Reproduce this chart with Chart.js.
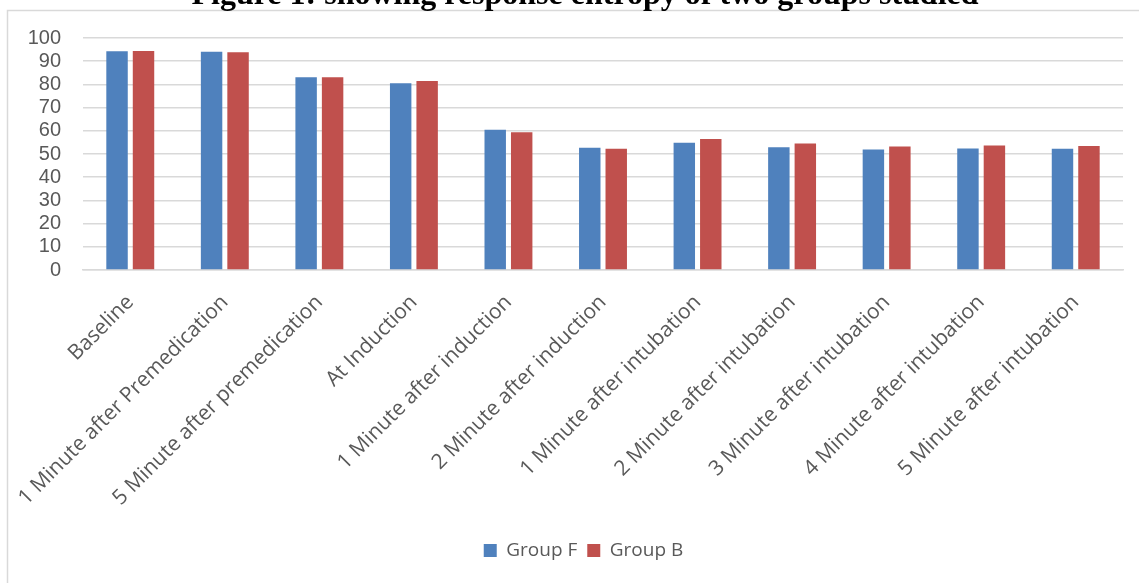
<!DOCTYPE html>
<html><head><meta charset="utf-8">
<script src="https://cdn.jsdelivr.net/npm/chart.js@4/dist/chart.umd.min.js"></script>
<style>html,body{margin:0;padding:0;background:#fff;overflow:hidden}
#wrap{position:relative;width:1139px;height:583px}
canvas{display:block}
</style></head><body><div id="wrap"><canvas id="c" width="1139" height="583"></canvas></div>
<script>
const categories = [
  "Baseline",
  "1 Minute after Premedication",
  "5 Minute after premedication",
  "At Induction",
  "1 Minute after induction",
  "2 Minute after induction",
  "1 Minute after intubation",
  "2 Minute after intubation",
  "3 Minute after intubation",
  "4 Minute after intubation",
  "5 Minute after intubation"
];
const groupF = [94.3, 94.1, 83.1, 80.5, 60.4, 52.7, 54.9, 52.9, 51.9, 52.4, 52.3];
const groupB = [94.4, 93.9, 83.1, 81.5, 59.4, 52.3, 56.5, 54.5, 53.2, 53.7, 53.4];
const yTicks = [0, 10, 20, 30, 40, 50, 60, 70, 80, 90, 100];
const seriesNames = ["Group F", "Group B"];
const titleText = "Figure 1: showing response entropy of two groups studied";

const framePlugin = {
  id: 'frameTitle',
  afterLayout(chart) {
    // centre the legend like the reference
    chart.legend.left += 22;
    chart.legend.right += 22;
  },
  beforeDraw(chart) {
    const ctx = chart.ctx;
    ctx.save();
    ctx.fillStyle = '#ffffff';
    ctx.fillRect(0, 0, chart.width, chart.height);
    ctx.strokeStyle = '#d9d9d9';
    ctx.lineWidth = 1.5;
    ctx.beginPath();
    ctx.moveTo(7.5, chart.height);
    ctx.lineTo(7.5, 10.5);
    ctx.lineTo(chart.width, 10.5);
    ctx.stroke();
    ctx.fillStyle = '#000000';
    ctx.font = 'bold 32px "Liberation Serif", "Times New Roman", serif';
    ctx.textAlign = 'center';
    ctx.textBaseline = 'alphabetic';
    ctx.fillText(titleText, 585, 4);
    ctx.restore();
  }
};

new Chart(document.getElementById('c'), {
  type: 'bar',
  data: {
    labels: categories,
    datasets: [
      { label: seriesNames[0], data: groupF, backgroundColor: '#4f81bd', borderWidth: 0,
        categoryPercentage: 0.56, barPercentage: 0.81 },
      { label: seriesNames[1], data: groupB, backgroundColor: '#c0504d', borderWidth: 0,
        categoryPercentage: 0.56, barPercentage: 0.81 }
    ]
  },
  options: {
    responsive: false,
    animation: false,
    devicePixelRatio: 1,
    layout: { padding: { left: 0, right: 16, top: 38, bottom: 13 } },
    plugins: {
      title: { display: false },
      tooltip: { enabled: false },
      legend: {
        position: 'bottom',
        labels: {
          boxWidth: 13, boxHeight: 13, padding: 10,
          color: '#595959',
          font: { family: '"Open Sans", sans-serif', size: 19 }
        }
      }
    },
    scales: {
      x: {
        grid: { display: false, drawTicks: false },
        border: { display: true, color: '#d9d9d9', width: 1.5 },
        ticks: {
          autoSkip: false, maxRotation: 45, minRotation: 45, padding: 20,
          color: '#595959',
          font: { family: '"Open Sans", sans-serif', size: 21 }
        },
        afterFit(scale) { scale.height = 261; }
      },
      y: {
        min: 0, max: 100,
        afterBuildTicks(scale) { scale.ticks = yTicks.map(v => ({ value: v })); },
        grid: { color: '#d9d9d9', lineWidth: 1.5, drawTicks: false },
        border: { display: false },
        ticks: {
          autoSkip: false, padding: 22, color: '#595959',
          font: { family: '"Liberation Sans", Arial, sans-serif', size: 20 }
        },
        afterFit(scale) { scale.width = 83; }
      }
    }
  },
  plugins: [framePlugin]
});
</script></body></html>
